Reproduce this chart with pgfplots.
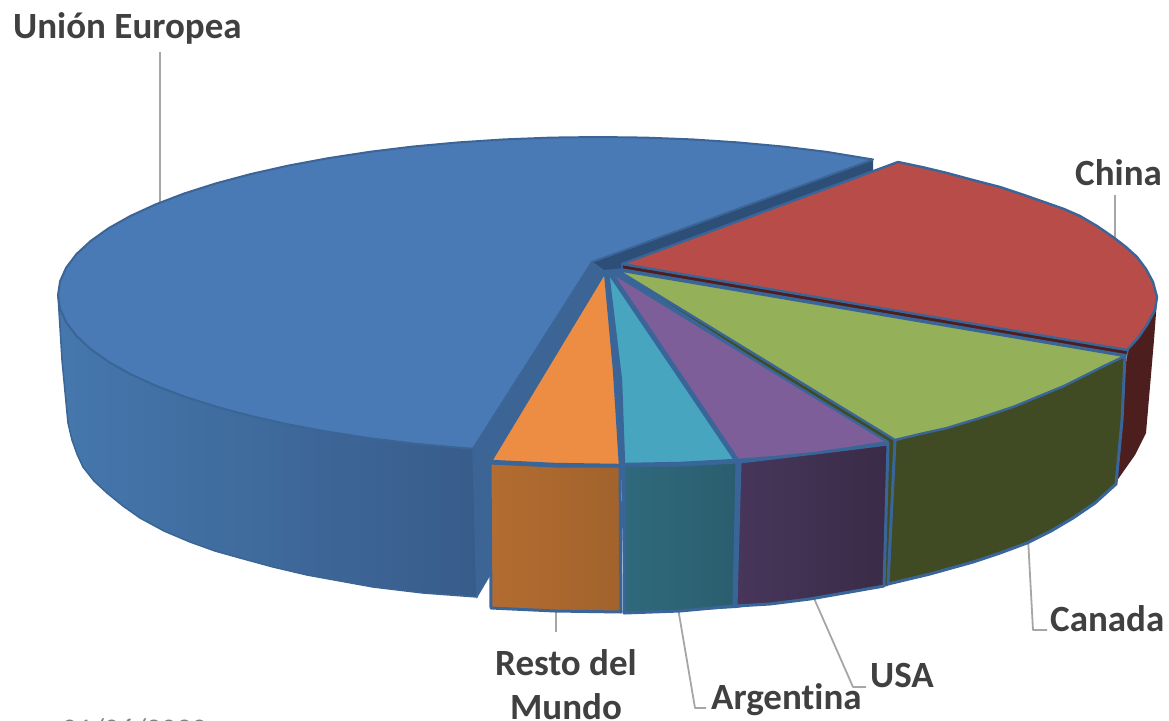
\documentclass[border=0pt]{standalone}
\usepackage{fontspec}
\setmainfont[Ligatures=NoCommon]{Carlito}
\usepackage{pgfplots}
\pgfplotsset{compat=1.18}
\definecolor{ed}{HTML}{3A6599}
\definecolor{edb}{HTML}{3A6596}
\definecolor{lab}{HTML}{404040}
\definecolor{lead}{HTML}{A6A6A6}
\definecolor{blueTop}{HTML}{4A7AB5}
\definecolor{blueBack}{HTML}{2C4E77}
\definecolor{blueCut}{HTML}{3C6595}
\definecolor{blueL}{HTML}{4577AD}
\definecolor{blueR}{HTML}{385C8A}
\definecolor{redWall}{HTML}{4C1F1E}
\definecolor{redTop}{HTML}{B74C49}
\definecolor{greenWall}{HTML}{404B23}
\definecolor{greenTop}{HTML}{94B058}
\definecolor{purL}{HTML}{47365A}
\definecolor{purR}{HTML}{3A2B48}
\definecolor{purTop}{HTML}{7D5E98}
\definecolor{tealL}{HTML}{30697C}
\definecolor{tealR}{HTML}{2A5E6E}
\definecolor{tealTop}{HTML}{48A5BF}
\definecolor{orL}{HTML}{B36C31}
\definecolor{orR}{HTML}{A1632C}
\definecolor{orTop}{HTML}{EC8D43}
\tikzset{lbl/.style={font=\fontsize{37}{44}\selectfont\bfseries,text=lab,inner sep=0pt},
 lead/.style={draw=lead,line width=1.8pt,line join=round}}
\begin{document}
\begin{tikzpicture}
\clip (0,0) rectangle (1169pt,720pt);
\begin{axis}[at={(0,0)},anchor=south west,width=1169pt,height=720pt,scale only axis,
  xmin=0,xmax=1169,ymin=0,ymax=720,y dir=reverse,hide axis]
% leader lines
\addplot[lead] coordinates {(160,52) (160,210)};
\addplot[lead] coordinates {(1115,195) (1115,240)};
\addplot[lead] coordinates {(1028,538) (1033,630) (1047,630)};
\addplot[lead] coordinates {(813,596) (853,687) (866,687)};
\addplot[lead] coordinates {(678,608) (695,708) (706,708)};
\addplot[lead] coordinates {(556,610) (556,632)};
% blue back wall and cut wall
\addplot[fill=blueBack,draw=none] coordinates {(592,262) (873,160) (873,172) (622,264) (622,276) (596,282)} -- cycle;
\addplot[fill=blueCut,draw=edb,line width=1pt] coordinates {(473,449) (592,262) (606,272) (490,462) (490,575) (477,597)} -- cycle;
% blue outer wall
\addplot[left color=blueL,right color=blueR,draw=edb,line width=1.5pt,line join=round] coordinates {
(58,295) (62,360) (68,423) (72,440) (77,454) (83,467) (94,481) (107,493) (123,506) (140,518) (164,531) (190,542) (215,551) (240,558) (273,567) (307,575) (340,581) (373,587) (423,593) (477,597) (473,449) (300,300)} -- cycle;
% blue top
\addplot[fill=blueTop,draw=edb,line width=2pt,line join=round] coordinates {
(592,262) (873,159.5) (826.2,151.8) (782.7,146.5) (737.8,142.4) (692,139.4) (645.1,137.6) (598,137) (550.9,137.6) (504.2,139.4) (458.2,142.4) (413.3,146.5) (369.8,151.8) (328,158.2) (288.3,165.6) (250.9,174) (216.2,183.3) (184.4,193.4) (155.6,204.4) (130.3,216) (108.6,228.2) (90.6,241) (76.4,254.1) (66.2,267.6) (60.1,281.2) (58,295) (60.1,308.8) (66.2,322.4) (76.4,335.9) (90.6,349) (108.6,361.8) (130.3,374) (155.6,385.6) (184.4,396.6) (216.2,406.7) (250.9,416) (288.3,424.4) (328,431.8) (369.8,438.2) (413.3,443.5) (458.2,447.6) (473,448.7)} -- cycle;
% red wall
\addplot[fill=redWall,draw=none] coordinates {(1127,352) (1147,325) (1155,310) (1157,300) (1154,340) (1146,433) (1135,455) (1116,482)} -- cycle;
% edge-coloured backing seen between the slices near the centre
\addplot[fill=ed,draw=none] coordinates {(604,270) (624,268) (1127,352) (1125,358) (895,442) (888,586) (736,608) (624,614) (621,468) (490,462)} -- cycle;
% red inner strip + top
\addplot[fill=redWall,draw=ed,line width=1.5pt] coordinates {(622,264) (1128,350) (1127,355) (622,269)} -- cycle;
\addplot[fill=redTop,draw=ed,line width=2.4pt,line join=round] coordinates {
(622,264) (898,162) (922,167) (947,173) (973,180) (1000,187) (1024,195) (1047,203) (1064,209) (1080,216) (1097,226) (1113,237) (1126,247) (1137,257) (1146,269) (1153,282) (1157,297) (1155,310) (1147,325) (1138,338) (1127,350)} -- cycle;
% green thin inner wall and outer wall
\addplot[fill=greenWall,draw=none] coordinates {(617,270) (892,437) (895,441) (889,585) (884,585) (889,445)} -- cycle;
\addplot[fill=greenWall,draw=ed,line width=3pt,line join=round] coordinates {
(895,440) (1125,356) (1122,420) (1116,484) (1095,503) (1073,518) (1051,531) (1027,543) (1000,553) (973,562) (930,574) (888,584)} -- cycle;
\addplot[fill=greenTop,draw=ed,line width=2.4pt,line join=round] coordinates {
(617,270) (1125,356) (1102,367) (1080,378) (1064,386) (1047,393) (1030,400) (1013,407) (980,418) (947,428) (920,434) (895,440)} -- cycle;
% purple
\addplot[left color=purL,right color=purR,draw=ed,line width=3pt,line join=round] coordinates {
(740,462) (790,456) (840,450) (888,444) (884,586) (850,592) (810,599) (770,604) (736,606)} -- cycle;
\addplot[fill=purTop,draw=ed,line width=2.4pt,line join=round] coordinates {
(611,272) (888,442) (850,448) (815,453) (775,457) (738,460)} -- cycle;
% teal
\addplot[left color=tealL,right color=tealR,draw=ed,line width=3pt,line join=round] coordinates {
(624,465) (680,465) (737,462) (734,606) (680,611) (624,613)} -- cycle;
\addplot[fill=tealTop,draw=ed,line width=2.4pt,line join=round] coordinates {
(608,272) (735,460) (680,463) (624,464) (621,380)} -- cycle;
% orange
\addplot[left color=orL,right color=orR,draw=ed,line width=3pt,line join=round] coordinates {
(490,463) (555,466) (620,466) (621,612) (555,611) (491,608)} -- cycle;
\addplot[fill=orTop,draw=ed,line width=2.4pt,line join=round] coordinates {
(605,272) (614,370) (620,465) (555,464) (491,461)} -- cycle;
% labels
\node[lbl,anchor=base west] at (axis cs:13,38) {Unión Europea};
\node[lbl,anchor=base west] at (axis cs:1075,185) {China};
\node[lbl,anchor=base west] at (axis cs:1050,631) {Canada};
\node[lbl,anchor=base west] at (axis cs:870,687) {USA};
\node[lbl,anchor=base west] at (axis cs:711,709) {Argentina};
\node[lbl,anchor=base] at (axis cs:566,675) {Resto del};
\node[lbl,anchor=base] at (axis cs:566,719) {Mundo};
\node[anchor=base west,inner sep=0pt,font=\fontsize{30}{34}\selectfont,text=gray] at (axis cs:62,739) {01/06/2020};
\end{axis}
\end{tikzpicture}
\end{document}
